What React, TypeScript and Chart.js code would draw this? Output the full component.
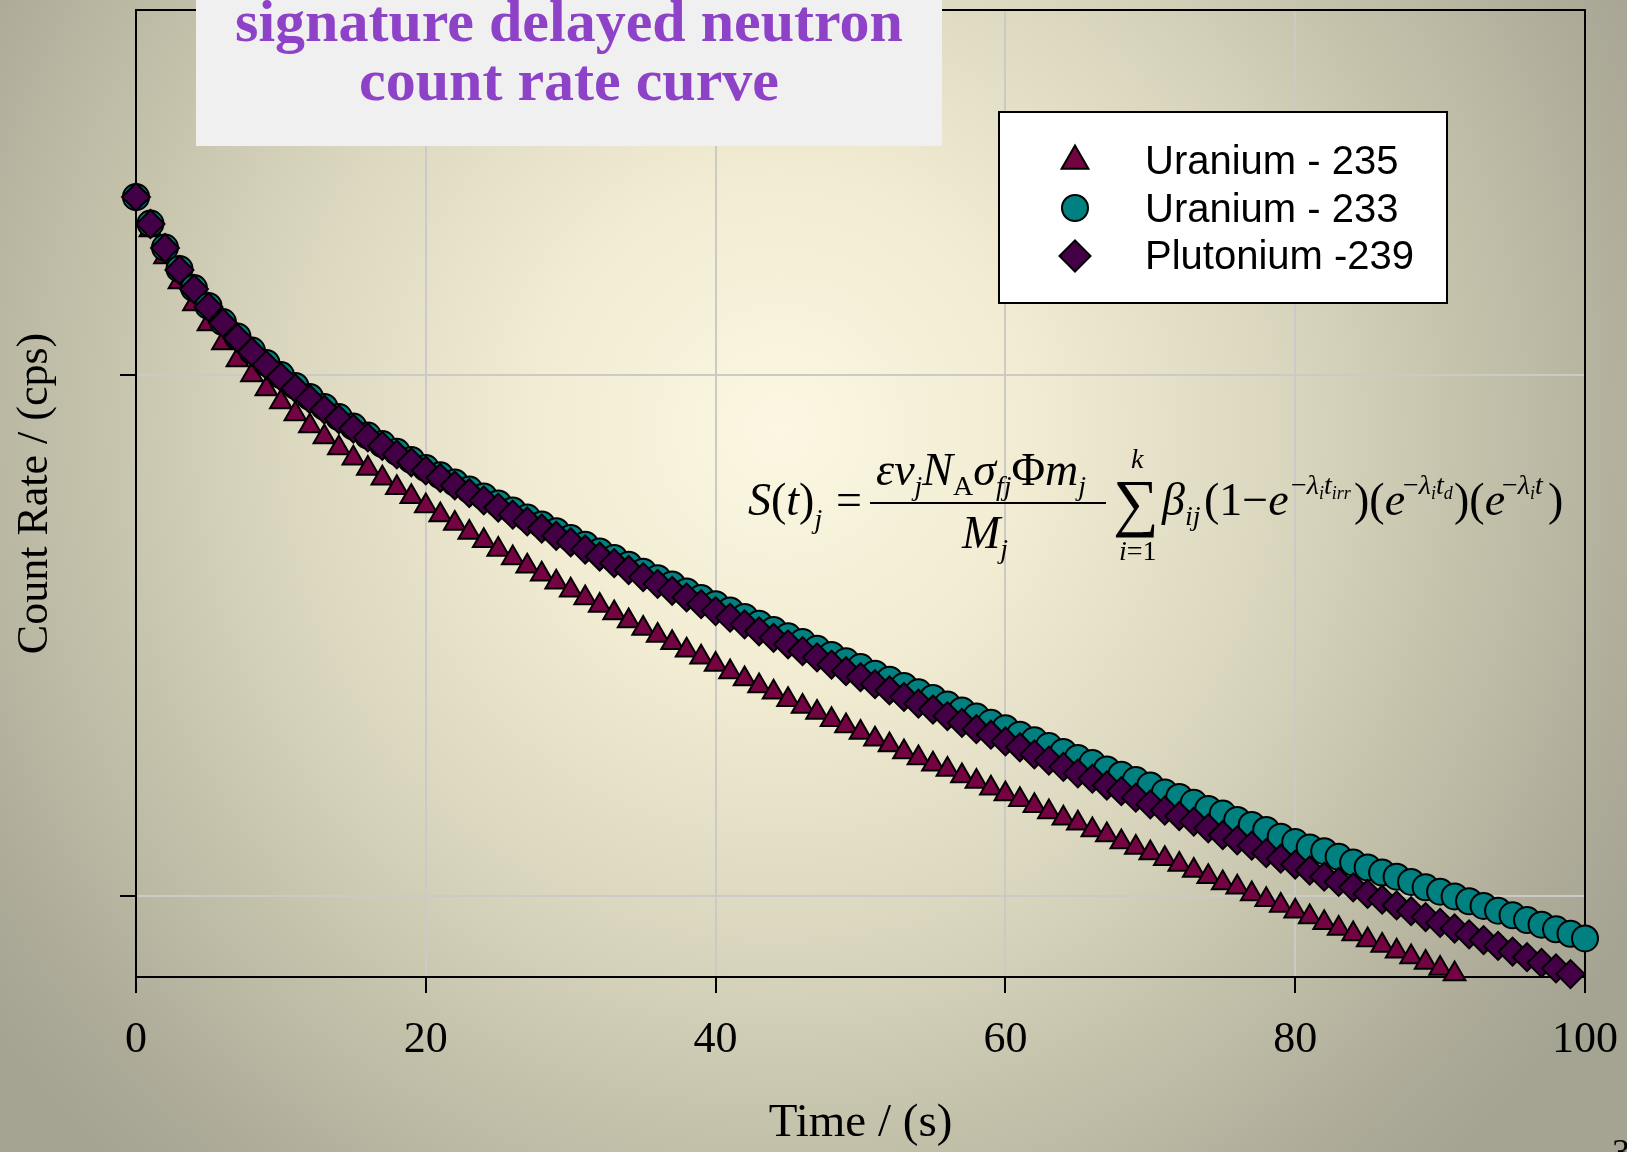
import React, { useEffect, useRef } from "react";
import { Chart, registerables } from "chart.js";

Chart.register(...registerables);

// ---------------- data ----------------
const timeSeconds = [
  0, 1, 2, 3, 4, 5, 6, 7, 8, 9,
  10, 11, 12, 13, 14, 15, 16, 17, 18, 19,
  20, 21, 22, 23, 24, 25, 26, 27, 28, 29,
  30, 31, 32, 33, 34, 35, 36, 37, 38, 39,
  40, 41, 42, 43, 44, 45, 46, 47, 48, 49,
  50, 51, 52, 53, 54, 55, 56, 57, 58, 59,
  60, 61, 62, 63, 64, 65, 66, 67, 68, 69,
  70, 71, 72, 73, 74, 75, 76, 77, 78, 79,
  80, 81, 82, 83, 84, 85, 86, 87, 88, 89,
  90, 91, 92, 93, 94, 95, 96, 97, 98, 99,
  100,
];

const u235Counts = [
  219.0, 189.3, 168.1, 150.5, 136.5, 125.0, 115.0, 106.7, 99.8, 93.8,
  88.6, 84.0, 79.7, 75.9, 72.3, 69.1, 66.1, 63.3, 60.7, 58.3,
  56.0, 53.8, 51.8, 49.8, 48.0, 46.2, 44.5, 42.9, 41.4, 40.0,
  38.6, 37.3, 36.1, 34.9, 33.7, 32.6, 31.6, 30.6, 29.6, 28.7,
  27.8, 26.9, 26.1, 25.3, 24.6, 23.8, 23.1, 22.5, 21.8, 21.2,
  20.6, 20.0, 19.5, 18.9, 18.4, 17.9, 17.5, 17.0, 16.6, 16.1,
  15.7, 15.3, 14.9, 14.5, 14.1, 13.8, 13.4, 13.1, 12.7, 12.4,
  12.1, 11.8, 11.5, 11.2, 10.9, 10.6, 10.4, 10.1, 9.85, 9.6,
  9.36, 9.12, 8.89, 8.67, 8.46, 8.24, 8.04, 7.84, 7.65, 7.46,
  7.27, 7.09,
];

const u233Counts = [
  219.0, 194.8, 175.2, 159.4, 146.5, 135.4, 126.1, 118.3, 111.2, 105.3,
  99.8, 95.1, 90.6, 86.7, 82.9, 79.5, 76.4, 73.6, 71.1, 68.6,
  66.2, 64.1, 62.1, 60.2, 58.4, 56.6, 54.9, 53.2, 51.6, 50.1,
  48.6, 47.2, 45.8, 44.5, 43.2, 41.9, 40.7, 39.6, 38.4, 37.3,
  36.3, 35.3, 34.3, 33.3, 32.4, 31.5, 30.7, 29.8, 29.0, 28.2,
  27.5, 26.7, 26.0, 25.3, 24.6, 24.0, 23.3, 22.7, 22.1, 21.5,
  21.0, 20.4, 19.9, 19.4, 18.9, 18.4, 18.0, 17.5, 17.1, 16.7,
  16.3, 15.8, 15.5, 15.1, 14.7, 14.4, 14.0, 13.7, 13.4, 13.0,
  12.7, 12.4, 12.2, 11.9, 11.6, 11.35, 11.1, 10.9, 10.65, 10.4,
  10.2, 9.99, 9.78, 9.58, 9.38, 9.19, 9.0, 8.82, 8.64, 8.47,
  8.3,
];

const pu239Counts = [
  219.0, 194.4, 174.9, 158.7, 145.9, 134.8, 125.6, 117.5, 110.5, 104.3,
  98.9, 94.1, 89.7, 85.7, 82.1, 78.8, 75.8, 73.0, 70.3, 67.9,
  65.5, 63.4, 61.3, 59.3, 57.4, 55.6, 53.9, 52.3, 50.7, 49.1,
  47.7, 46.2, 44.8, 43.5, 42.2, 40.9, 39.7, 38.5, 37.4, 36.3,
  35.2, 34.2, 33.2, 32.2, 31.3, 30.4, 29.5, 28.7, 27.8, 27.0,
  26.3, 25.5, 24.8, 24.1, 23.4, 22.8, 22.15, 21.5, 20.9, 20.4,
  19.8, 19.3, 18.7, 18.2, 17.7, 17.2, 16.8, 16.3, 15.9, 15.45,
  15.0, 14.6, 14.25, 13.9, 13.5, 13.1, 12.8, 12.5, 12.1, 11.8,
  11.5, 11.2, 10.9, 10.65, 10.4, 10.1, 9.85, 9.6, 9.36, 9.12,
  8.89, 8.67, 8.45, 8.24, 8.03, 7.83, 7.64, 7.45, 7.27, 7.09,
];

const seriesLabels = ["Uranium - 235", "Uranium - 233", "Plutonium -239"];
const xTickStep = 20;
const xRange = [0, 100];
const yRange = [7, 500];
const yGridValues = [10, 100];
const titleLines = ["signature delayed neutron", "count rate curve"];
const xAxisTitle = "Time / (s)";
const yAxisTitle = "Count Rate / (cps)";
const pageNumber = "3";

// ---------------- styles ----------------
const COLORS = {
  u235: "#740342",
  u233: "#008080",
  pu239: "#430046",
  grid: "#cbcac6",
  title: "#8e42c8",
};
const SERIF = '"Liberation Serif", "Times New Roman", serif';
const SANS = '"Liberation Sans", Arial, sans-serif';

const W = 1627;
const H = 1152;
const AREA = { left: 136, right: 1585, top: 10, bottom: 977 };

function toPoints(values: number[]) {
  return values.map((v, i) => ({ x: timeSeconds[i], y: v }));
}

// marker shapes for the legend
function drawTriangle(ctx: CanvasRenderingContext2D, x: number, y: number, r: number) {
  ctx.beginPath();
  ctx.moveTo(x, y - r);
  ctx.lineTo(x + r * Math.sin((2 * Math.PI) / 3), y - r * Math.cos((2 * Math.PI) / 3));
  ctx.lineTo(x + r * Math.sin((4 * Math.PI) / 3), y - r * Math.cos((4 * Math.PI) / 3));
  ctx.closePath();
  ctx.fill();
  ctx.stroke();
}
function drawCircle(ctx: CanvasRenderingContext2D, x: number, y: number, r: number) {
  ctx.beginPath();
  ctx.arc(x, y, r, 0, Math.PI * 2);
  ctx.fill();
  ctx.stroke();
}
function drawDiamond(ctx: CanvasRenderingContext2D, x: number, y: number, r: number) {
  ctx.beginPath();
  ctx.moveTo(x - r, y);
  ctx.lineTo(x, y - r);
  ctx.lineTo(x + r, y);
  ctx.lineTo(x, y + r);
  ctx.closePath();
  ctx.fill();
  ctx.stroke();
}

const framePlugin = {
  id: "plotFrame",
  beforeDatasetsDraw(chart: any) {
    const { ctx, chartArea } = chart;
    ctx.save();
    ctx.strokeStyle = "#000";
    ctx.lineWidth = 2;
    ctx.strokeRect(chartArea.left, chartArea.top, chartArea.right - chartArea.left, chartArea.bottom - chartArea.top);
    ctx.restore();
  },
};

const LEGEND_BOX = { x: 999, y: 112, w: 448, h: 191 };
const legendPlugin = {
  id: "boxLegend",
  afterDatasetsDraw(chart: any) {
    const ctx: CanvasRenderingContext2D = chart.ctx;
    ctx.save();
    ctx.fillStyle = "#ffffff";
    ctx.fillRect(LEGEND_BOX.x, LEGEND_BOX.y, LEGEND_BOX.w, LEGEND_BOX.h);
    ctx.lineWidth = 2;
    ctx.strokeStyle = "#000";
    ctx.strokeRect(LEGEND_BOX.x, LEGEND_BOX.y, LEGEND_BOX.w, LEGEND_BOX.h);
    const mx = 1075;
    ctx.lineWidth = 2;
    ctx.strokeStyle = "#000";
    ctx.fillStyle = COLORS.u235;
    drawTriangle(ctx, mx, 161, 15.5);
    ctx.fillStyle = COLORS.u233;
    drawCircle(ctx, mx, 208, 13);
    ctx.fillStyle = COLORS.pu239;
    drawDiamond(ctx, mx, 256, 15.5);
    ctx.fillStyle = "#000";
    ctx.font = `40px ${SANS}`;
    ctx.textBaseline = "alphabetic";
    ctx.textAlign = "left";
    const baselines = [174, 222, 269];
    seriesLabels.forEach((label, i) => ctx.fillText(label, 1145, baselines[i]));
    ctx.restore();
  },
};

type Seg = { t: string; s: number; i?: boolean; dy?: number };
const formulaRuns: { x: number; y: number; segs: Seg[] }[] = [
  { x: 748, y: 515, segs: [{ t: "S", s: 46, i: true }, { t: "(", s: 46 }, { t: "t", s: 46, i: true }, { t: ")", s: 46 }, { t: "j", s: 28, i: true, dy: 13 }] },
  { x: 836, y: 515, segs: [{ t: "=", s: 46 }] },
  {
    x: 876, y: 485,
    segs: [
      { t: "ε", s: 46, i: true }, { t: "ν", s: 46, i: true }, { t: "j", s: 28, i: true, dy: 10 },
      { t: "N", s: 46, i: true }, { t: "A", s: 28, dy: 10 }, { t: "σ", s: 46, i: true },
      { t: "fj", s: 28, i: true, dy: 10 }, { t: "Φ", s: 46 }, { t: "m", s: 46, i: true }, { t: "j", s: 28, i: true, dy: 10 },
    ],
  },
  { x: 962, y: 548, segs: [{ t: "M", s: 46, i: true }, { t: "j", s: 28, i: true, dy: 10 }] },
  { x: 1113, y: 524, segs: [{ t: "∑", s: 64 }] },
  { x: 1131, y: 468, segs: [{ t: "k", s: 28, i: true }] },
  { x: 1119, y: 560, segs: [{ t: "i", s: 28, i: true }, { t: "=1", s: 28 }] },
  { x: 1162, y: 515, segs: [{ t: "β", s: 46, i: true }, { t: "ij", s: 28, i: true, dy: 10 }] },
  { x: 1204, y: 515, segs: [{ t: "(", s: 46 }, { t: "1", s: 46 }, { t: "−", s: 46 }, { t: "e", s: 46, i: true }] },
  { x: 1291, y: 494, segs: [{ t: "−", s: 28 }, { t: "λ", s: 28, i: true }, { t: "i", s: 18, i: true, dy: 5 }, { t: "t", s: 28, i: true }, { t: "irr", s: 18, i: true, dy: 5 }] },
  { x: 1354, y: 515, segs: [{ t: ")", s: 46 }, { t: "(", s: 46 }, { t: "e", s: 46, i: true }] },
  { x: 1403, y: 494, segs: [{ t: "−", s: 28 }, { t: "λ", s: 28, i: true }, { t: "i", s: 18, i: true, dy: 5 }, { t: "t", s: 28, i: true }, { t: "d", s: 18, i: true, dy: 5 }] },
  { x: 1454, y: 515, segs: [{ t: ")", s: 46 }, { t: "(", s: 46 }, { t: "e", s: 46, i: true }] },
  { x: 1502, y: 494, segs: [{ t: "−", s: 28 }, { t: "λ", s: 28, i: true }, { t: "i", s: 18, i: true, dy: 5 }, { t: "t", s: 28, i: true }] },
  { x: 1548, y: 515, segs: [{ t: ")", s: 46 }] },
];
const FRACTION_BAR = { x1: 870, x2: 1106, y: 503 };

const formulaPlugin = {
  id: "formula",
  afterDatasetsDraw(chart: any) {
    const ctx: CanvasRenderingContext2D = chart.ctx;
    ctx.save();
    ctx.fillStyle = "#000";
    ctx.textAlign = "left";
    ctx.textBaseline = "alphabetic";
    for (const run of formulaRuns) {
      let cx = run.x;
      for (const sg of run.segs) {
        ctx.font = `${sg.i ? "italic " : ""}${sg.s}px ${SERIF}`;
        ctx.fillText(sg.t, cx, run.y + (sg.dy || 0));
        cx += ctx.measureText(sg.t).width;
      }
    }
    ctx.strokeStyle = "#000";
    ctx.lineWidth = 2;
    ctx.beginPath();
    ctx.moveTo(FRACTION_BAR.x1, FRACTION_BAR.y);
    ctx.lineTo(FRACTION_BAR.x2, FRACTION_BAR.y);
    ctx.stroke();
    ctx.restore();
  },
};

export default function App() {
  const canvasRef = useRef<HTMLCanvasElement | null>(null);

  useEffect(() => {
    const canvas = canvasRef.current;
    if (!canvas) return;
    const chart = new Chart(canvas, {
      type: "scatter",
      data: {
        datasets: [
          {
            label: seriesLabels[0],
            data: toPoints(u235Counts),
            pointStyle: "triangle",
            pointRadius: 12.5,
            pointHoverRadius: 12.5,
            backgroundColor: COLORS.u235,
            borderColor: "#000",
            borderWidth: 2,
            showLine: false,
            clip: false as any,
            order: 3,
          },
          {
            label: seriesLabels[1],
            data: toPoints(u233Counts),
            pointStyle: "circle",
            pointRadius: 13,
            pointHoverRadius: 13,
            backgroundColor: COLORS.u233,
            borderColor: "#000",
            borderWidth: 2,
            showLine: false,
            clip: false as any,
            order: 2,
          },
          {
            label: seriesLabels[2],
            data: toPoints(pu239Counts),
            pointStyle: "rectRot",
            pointRadius: 14,
            pointHoverRadius: 14,
            backgroundColor: COLORS.pu239,
            borderColor: "#000",
            borderWidth: 2,
            showLine: false,
            clip: false as any,
            order: 1,
          },
        ],
      },
      options: {
        animation: false,
        responsive: false,
        maintainAspectRatio: false,
        devicePixelRatio: 1,
        events: [],
        layout: {
          autoPadding: false,
          padding: { top: AREA.top, right: W - AREA.right, bottom: 0, left: 0 },
        },
        plugins: {
          legend: { display: false },
          tooltip: { enabled: false },
          title: { display: false },
        },
        scales: {
          x: {
            type: "linear",
            min: xRange[0],
            max: xRange[1],
            ticks: {
              stepSize: xTickStep,
              autoSkip: false,
              maxRotation: 0,
              padding: 21,
              color: "#000",
              font: { family: SERIF, size: 44 },
            },
            grid: {
              color: COLORS.grid,
              lineWidth: 2,
              drawTicks: true,
              tickLength: 16,
              tickColor: "#000",
              tickWidth: 2,
            },
            border: { display: true, color: "#000", width: 2 },
            title: {
              display: true,
              text: xAxisTitle,
              color: "#000",
              font: { family: SERIF, size: 47 },
              padding: { top: 0, bottom: 0 },
            },
            afterFit: (scale: any) => {
              scale.height = H - AREA.bottom;
              scale.paddingLeft = 0;
              scale.paddingRight = 0;
              scale.paddingTop = 0;
              scale.paddingBottom = 0;
            },
          },
          y: {
            type: "logarithmic",
            min: yRange[0],
            max: yRange[1],
            afterBuildTicks: (scale: any) => {
              scale.ticks = yGridValues.map((v) => ({ value: v }));
            },
            ticks: {
              callback: () => "",
              padding: 0,
              font: { size: 8 },
            },
            grid: {
              color: COLORS.grid,
              lineWidth: 2,
              drawTicks: true,
              tickLength: 16,
              tickColor: "#000",
              tickWidth: 2,
            },
            border: { display: true, color: "#000", width: 2 },
            title: {
              display: true,
              text: yAxisTitle,
              color: "#000",
              font: { family: SERIF, size: 44 },
              padding: { top: 9, bottom: 0 },
            },
            afterFit: (scale: any) => {
              scale.width = AREA.left;
              scale.paddingLeft = 0;
              scale.paddingRight = 0;
              scale.paddingTop = 0;
              scale.paddingBottom = 0;
            },
          },
        },
      } as any,
      plugins: [framePlugin, formulaPlugin, legendPlugin],
    });
    return () => chart.destroy();
  }, []);

  return (
    <div
      style={{
        position: "fixed",
        left: 0,
        top: 0,
        width: W,
        height: H,
        overflow: "hidden",
        background:
          "radial-gradient(ellipse 980px 1000px at 780px 430px, #fbf7e2 0%, #f1ecd2 25%, #dcd8c0 50%, #c3c0aa 72%, #aeab99 90%, #a5a392 100%)",
      }}
    >
      <canvas ref={canvasRef} width={W} height={H} style={{ position: "absolute", left: 0, top: 0, width: W, height: H }} />
      <div
        style={{
          position: "absolute",
          left: 196,
          top: 0,
          width: 746,
          height: 146,
          background: "#f0f0f0",
        }}
      >
        <div
          style={{
            position: "absolute",
            left: 0,
            top: -8,
            width: "100%",
            textAlign: "center",
            fontFamily: SERIF,
            fontWeight: "bold",
            fontSize: 60,
            lineHeight: "59px",
            color: COLORS.title,
            whiteSpace: "nowrap",
          }}
        >
          {titleLines.map((line) => (
            <div key={line}>{line}</div>
          ))}
        </div>
      </div>
      <div
        style={{
          position: "absolute",
          left: 1612,
          top: 1134,
          fontFamily: SERIF,
          fontSize: 36,
          lineHeight: "36px",
          color: "#000",
        }}
      >
        {pageNumber}
      </div>
    </div>
  );
}
